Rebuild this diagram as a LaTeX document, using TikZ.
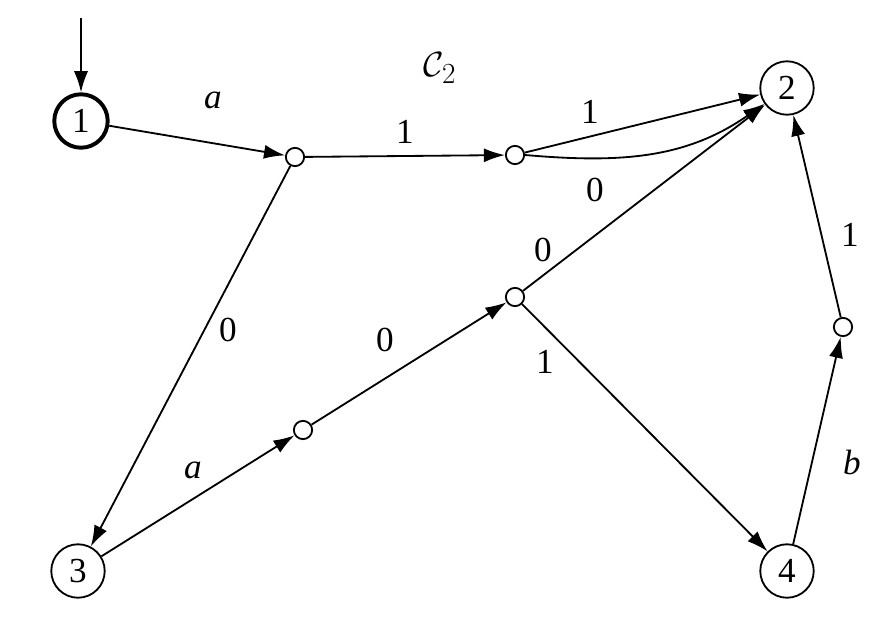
\documentclass[tikz,border=0pt]{standalone}
\usepackage{fontspec}
\setmainfont{Liberation Serif}
\usetikzlibrary{arrows.meta}
\begin{document}
\begin{tikzpicture}[x=0.025cm,y=-0.025cm,line width=1.3pt,>={Latex[length=15pt,width=10pt]},
  state/.style={circle,draw,minimum size=38pt,inner sep=0pt,font=\fontsize{25}{30}\selectfont},
  dot/.style={circle,draw,minimum size=13pt,inner sep=0pt},
  lbl/.style={font=\fontsize{25}{30}\selectfont}]
\useasboundingbox (0,0) rectangle (883,618);
\node[state,line width=2.8pt] (q1) at (81,121) {1};
\node[state] (q2) at (787,88) {2};
\node[state] (q3) at (78,571) {3};
\node[state] (q4) at (787,571) {4};
\node[dot] (s1) at (295,157) {};
\node[dot] (s2) at (515,155) {};
\node[dot] (s3) at (515,297) {};
\node[dot] (s4) at (303,430) {};
\node[dot] (s5) at (843,327) {};
\coordinate (init) at (81,18);
\node[lbl,font=\fontsize{30}{34}\selectfont] at (440,68) {$\mathcal{C}_{2}$};
%
\draw[->] (init) -- (q1);
\draw[->] (q1) -- (s1);
\draw[->] (s1) -- (s2);
\draw[->] (s2) -- (q2);
\draw[->] (s2.east) to[out=-5,in=215] (q2);
\draw[->] (s1) -- (q3);
\draw[->] (q3) -- (s4);
\draw[->] (s4) -- (s3);
\draw[->] (s3) -- (q2);
\draw[->] (s3) -- (q4);
\draw[->] (q4) -- (s5);
\draw[->] (s5) -- (q2);
%
\node[lbl] at (213,100) {\itshape a};
\node[lbl] at (405,132) {1};
\node[lbl] at (590,112) {1};
\node[lbl] at (595,190) {0};
\node[lbl] at (228,330) {0};
\node[lbl] at (193,470) {\itshape a};
\node[lbl] at (385,340) {0};
\node[lbl] at (543,250) {0};
\node[lbl] at (545,362) {1};
\node[lbl] at (852,462) {\itshape b};
\node[lbl] at (850,235) {1};
\end{tikzpicture}
\end{document}
